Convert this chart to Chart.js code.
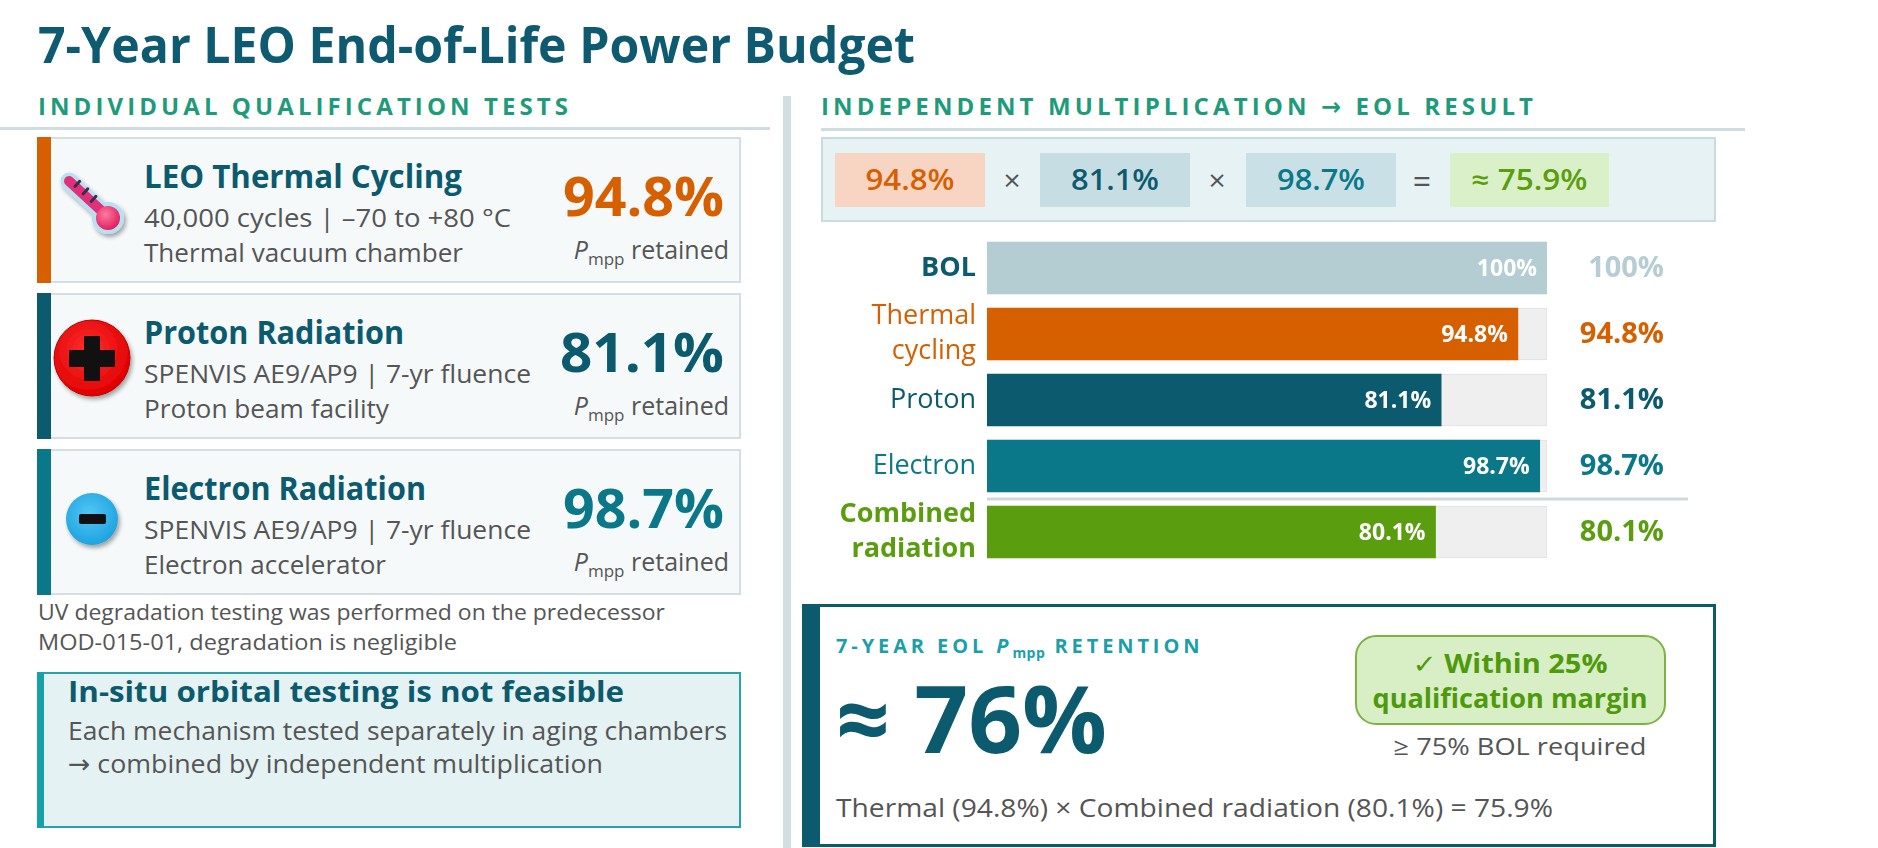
<!DOCTYPE html>
<html>
<head>
<meta charset="utf-8">
<script src="https://cdn.jsdelivr.net/npm/chart.js@4.4.1/dist/chart.umd.min.js"></script>
<style>
  html, body { margin: 0; padding: 0; background: #ffffff; }
  #wrap { position: relative; width: 1878px; height: 848px; overflow: hidden; background: #fff; }
  #layer { position: absolute; left: 0; top: 0; }
  #bars { position: absolute; left: 820px; top: 235px; }
</style>
</head>
<body>
<div id="wrap">
  <svg id="layer" width="1878" height="848" xmlns="http://www.w3.org/2000/svg"></svg>
  <canvas id="bars" width="880" height="330"></canvas>
</div>
<script>
// ---------------- DATA ----------------
const categories = ['BOL', ['Thermal', 'cycling'], 'Proton', 'Electron', ['Combined', 'radiation']];
const retention = [100, 94.8, 81.1, 98.7, 80.1];          // % of BOL Pmpp
const trackMax = [100, 100, 100, 100, 100];               // BOL reference track
const eolProduct = 75.9;                                   // % (multiplied)
const eolRounded = 76;                                     // %
const marginPct = 25;                                      // qualification margin %
const requiredBOL = 75;                                    // % BOL required
const testTitles = ['LEO Thermal Cycling', 'Proton Radiation', 'Electron Radiation'];
const testLine1 = ['40,000 cycles | –70 to +80 °C', 'SPENVIS AE9/AP9 | 7-yr fluence', 'SPENVIS AE9/AP9 | 7-yr fluence'];
const testLine2 = ['Thermal vacuum chamber', 'Proton beam facility', 'Electron accelerator'];

// ---------------- STYLE ----------------
const FONT = "'Open Sans', 'Noto Sans', 'DejaVu Sans', sans-serif";
const C_TITLE = '#0e5a70';
const C_SECTION = '#1e9b7b';
const C_ORANGE = '#d65f00';
const C_DTEAL = '#0c5a6d';
const C_TEAL = '#0a7889';
const C_GREEN = '#5a9e0f';
const C_GREY = '#555555';
const barColors = ['#b3cdd3', C_ORANGE, C_DTEAL, C_TEAL, C_GREEN];
const outerColors = ['#b5cdd3', C_ORANGE, C_DTEAL, C_TEAL, C_GREEN];
const tickColors = [C_DTEAL, C_ORANGE, C_DTEAL, C_TEAL, C_GREEN];
const boldTicks = [0, 4];

const fmt = v => (Number.isInteger(v) ? v.toFixed(0) : v.toFixed(1)) + '%';

// ---------------- SVG LAYOUT ----------------
const FF = FONT.replace(/"/g, '');
function txt(x, y, s, o = {}) {
  const a = [`x="${x}"`, `y="${y}"`, `font-family="${FF}"`,
             `font-size="${o.size || 20}"`, `fill="${o.color || C_GREY}"`];
  if (o.weight) a.push(`font-weight="${o.weight}"`);
  if (o.anchor) a.push(`text-anchor="${o.anchor}"`);
  if (o.w) a.push(`textLength="${o.w}" lengthAdjust="${o.adj || 'spacingAndGlyphs'}"`);
  if (o.ls) a.push(`letter-spacing="${o.ls}"`);
  if (o.style) a.push(`font-style="${o.style}"`);
  return `<text ${a.join(' ')}>${s}</text>`;
}
function pmpp(xRight, y, size, color) {
  return `<text x="${xRight}" y="${y}" text-anchor="end" font-family="${FF}" font-size="${size}" fill="${color}">` +
         `<tspan font-style="italic">P</tspan><tspan font-size="${Math.round(size * 0.68)}" dy="6">mpp</tspan><tspan dy="-6"> retained</tspan></text>`;
}

let s = '';
s += `<defs>
  <filter id="sh" x="-30%" y="-30%" width="160%" height="160%"><feDropShadow dx="2" dy="3" stdDeviation="2" flood-color="#000" flood-opacity="0.35"/></filter>
  <radialGradient id="gRed" cx="45%" cy="40%" r="60%"><stop offset="0%" stop-color="#ff3030"/><stop offset="100%" stop-color="#e00000"/></radialGradient>
  <radialGradient id="gBlue" cx="45%" cy="40%" r="60%"><stop offset="0%" stop-color="#52c6f6"/><stop offset="100%" stop-color="#1fa3e0"/></radialGradient>
  <radialGradient id="gPink" cx="40%" cy="35%" r="65%"><stop offset="0%" stop-color="#ff7aa0"/><stop offset="100%" stop-color="#e0205f"/></radialGradient>
</defs>`;

// Title
s += txt(38, 63, '7-Year LEO End-of-Life Power Budget', { size: 50, weight: 700, color: C_TITLE, w: 877 });

// Section labels + rules
s += txt(38, 115, 'INDIVIDUAL QUALIFICATION TESTS', { size: 24, weight: 700, color: C_SECTION, w: 530, adj: 'spacing' });
s += `<rect x="0" y="127" width="770" height="3" fill="#cfdde0"/>`;
s += txt(821, 115, 'INDEPENDENT MULTIPLICATION → EOL RESULT', { size: 24, weight: 700, color: C_SECTION, w: 712, adj: 'spacing' });
s += `<rect x="821" y="128" width="924" height="3" fill="#cfdde0"/>`;

// Vertical divider
s += `<rect x="783" y="96" width="8" height="752" fill="#d3dee1"/>`;

// Cards
const cardTops = [137, 293, 449];
const cardAccent = [C_ORANGE, C_DTEAL, C_TEAL];
const cardValColor = [C_ORANGE, C_DTEAL, C_TEAL];
const titleW = [318, 260, 282];
const l1W = [367, 387, 387];
const l2W = [319, 245, 242];
const valW = [161, 164, 161];
for (let i = 0; i < 3; i++) {
  const t = cardTops[i];
  s += `<rect x="38" y="${t + 1}" width="702" height="144" fill="#f5f9fa" stroke="#d5dfe3" stroke-width="2"/>`;
  s += `<rect x="37" y="${t}" width="14" height="146" fill="${cardAccent[i]}"/>`;
  s += txt(144, t + 51, testTitles[i], { size: 32, weight: 700, color: C_DTEAL, w: titleW[i] });
  s += txt(144, t + 90, testLine1[i], { size: 26, color: C_GREY, w: l1W[i] });
  s += txt(144, t + 125, testLine2[i], { size: 26, color: C_GREY, w: l2W[i] });
  s += txt(724, t + 79, fmt(retention[i + 1]), { size: 53, weight: 700, color: cardValColor[i], anchor: 'end', w: valW[i] });
  s += pmpp(729, t + 122, 25, C_GREY);
}

// Icons
// thermometer
(function () {
  const x1 = 69, y1 = 181, x2 = 106, y2 = 215;
  s += `<g filter="url(#sh)">`;
  s += `<line x1="${x1}" y1="${y1}" x2="${x2}" y2="${y2}" stroke="#b8dff2" stroke-width="17" stroke-linecap="round"/>`;
  s += `<circle cx="108" cy="218" r="16" fill="#b8dff2"/>`;
  s += `</g>`;
  s += `<line x1="${x1}" y1="${y1}" x2="${x2}" y2="${y2}" stroke="#e0307a" stroke-width="10" stroke-linecap="round"/>`;
  s += `<circle cx="108" cy="218" r="12" fill="url(#gPink)"/>`;
  const dx = x2 - x1, dy = y2 - y1, L = Math.hypot(dx, dy);
  const ux = dx / L, uy = dy / L, px = uy, py = -ux;
  [0.16, 0.38, 0.6].forEach(f => {
    const cx = x1 + dx * f, cy = y1 + dy * f;
    s += `<line x1="${cx}" y1="${cy}" x2="${cx + px * 7}" y2="${cy + py * 7}" stroke="#3a2c4e" stroke-width="3" stroke-linecap="round"/>`;
  });
})();
// proton
s += `<circle cx="92" cy="358" r="38" fill="url(#gRed)" stroke="#b80000" stroke-width="1" filter="url(#sh)"/>`;
s += `<rect x="69" y="350" width="46" height="17" fill="#111"/><rect x="84" y="336" width="16" height="45" fill="#111"/>`;
// electron
s += `<circle cx="92" cy="519" r="26" fill="url(#gBlue)" filter="url(#sh)"/>`;
s += `<rect x="79" y="514" width="27" height="10" rx="2" fill="#111"/>`;

// UV note
s += txt(38, 620, 'UV degradation testing was performed on the predecessor', { size: 22, color: C_GREY, w: 627 });
s += txt(38, 650, 'MOD-015-01, degradation is negligible', { size: 22, color: C_GREY, w: 419 });

// In-situ box
s += `<rect x="38" y="673" width="702" height="154" fill="#e5f2f4" stroke="#2aa2ab" stroke-width="2"/>`;
s += `<rect x="37" y="672" width="7" height="156" fill="#17a2aa"/>`;
s += txt(68, 702, 'In-situ orbital testing is not feasible', { size: 28, weight: 700, color: C_DTEAL, w: 556 });
s += txt(68, 740, 'Each mechanism tested separately in aging chambers', { size: 26, color: C_GREY, w: 659 });
s += txt(68, 773, '→ combined by independent multiplication', { size: 26, color: C_GREY, w: 535 });

// Formula box
s += `<rect x="822" y="138" width="893" height="83" fill="#e6f2f4" stroke="#c8dbdf" stroke-width="2"/>`;
const chipX = [835, 1040, 1246, 1450];
const chipW = [150, 150, 150, 159];
const chipFill = ['#f8d5c2', '#c6dee3', '#c9e1e6', '#daf0c9'];
const chipColor = [C_ORANGE, C_DTEAL, C_TEAL, C_GREEN];
const chipTxt = [fmt(retention[1]), fmt(retention[2]), fmt(retention[3]), '≈ ' + fmt(eolProduct)];
const chipTW = [89, 88, 88, 116];
for (let i = 0; i < 4; i++) {
  s += `<rect x="${chipX[i]}" y="153" width="${chipW[i]}" height="54" fill="${chipFill[i]}"/>`;
  s += txt(chipX[i] + chipW[i] / 2, 190, chipTxt[i], { size: 28, weight: 600, color: chipColor[i], anchor: 'middle', w: chipTW[i] });
}
s += txt(1012, 191, '×', { size: 30, color: C_GREY, anchor: 'middle' });
s += txt(1217, 191, '×', { size: 30, color: C_GREY, anchor: 'middle' });
s += txt(1422, 193, '=', { size: 32, color: C_GREY, anchor: 'middle' });

// Result box
s += `<rect x="803.5" y="605.5" width="911" height="240" fill="#ffffff" stroke="${C_DTEAL}" stroke-width="3"/>`;
s += `<rect x="802" y="604" width="18" height="243" fill="${C_DTEAL}"/>`;
s += `<text x="836" y="653" font-family="${FF}" font-size="20" font-weight="700" fill="#1a9fab" letter-spacing="3.9">7-YEAR EOL <tspan font-style="italic">P</tspan><tspan font-size="14" dy="5" letter-spacing="0.5">mpp</tspan><tspan dy="-5"> RETENTION</tspan></text>`;
s += txt(836, 753, '≈ ' + eolRounded + '%', { size: 93, weight: 700, color: C_DTEAL, w: 271 });
s += `<rect x="1356" y="636" width="309" height="88" rx="20" ry="20" fill="#d8efc6" stroke="#7db343" stroke-width="2"/>`;
s += txt(1510, 673, '✓ Within ' + marginPct + '%', { size: 26, weight: 700, color: '#4f9a0c', anchor: 'middle', w: 195 });
s += txt(1510, 708, 'qualification margin', { size: 26, weight: 700, color: '#4f9a0c', anchor: 'middle', w: 275 });
s += txt(1520, 755, '≥ ' + requiredBOL + '% BOL required', { size: 24, color: C_GREY, anchor: 'middle', w: 253 });
s += txt(836, 817, 'Thermal (' + fmt(retention[1]) + ') × Combined radiation (' + fmt(retention[4]) + ') = ' + fmt(eolProduct),
         { size: 25, color: C_GREY, w: 717 });

document.getElementById('layer').innerHTML = s;

// ---------------- CHART ----------------
const valueLabels = {
  id: 'valueLabels',
  afterDatasetsDraw(chart) {
    const c = chart.ctx;
    const meta = chart.getDatasetMeta(0);
    const area = chart.chartArea;
    c.save();
    // separator between single mechanisms and combined radiation
    const ySep = (meta.data[3].y + meta.data[4].y) / 2;
    c.strokeStyle = '#cfd9dc';
    c.lineWidth = 3;
    c.beginPath();
    c.moveTo(area.left, ySep);
    c.lineTo(area.right + 141, ySep);
    c.stroke();
    c.textAlign = 'right';
    c.textBaseline = 'middle';
    meta.data.forEach((bar, i) => {
      const label = fmt(retention[i]);
      c.font = `700 23px ${FONT}`;
      c.fillStyle = '#ffffff';
      c.fillText(label, bar.x - 10, bar.y + 1);
      c.font = `700 29px ${FONT}`;
      c.fillStyle = outerColors[i];
      c.fillText(label, area.right + 117, bar.y + 1);
    });
    c.restore();
  }
};

new Chart(document.getElementById('bars'), {
  type: 'bar',
  data: {
    labels: categories,
    datasets: [
      { data: retention, backgroundColor: barColors, borderWidth: 0, order: 1, grouped: false, barThickness: 52 },
      { data: trackMax, backgroundColor: '#efefef', borderColor: '#e0e0e0', borderWidth: 1, order: 2, grouped: false, barThickness: 52 }
    ]
  },
  options: {
    indexAxis: 'y',
    responsive: false,
    animation: false,
    events: [],
    layout: { padding: { left: 0, right: 153, top: 0, bottom: 0 } },
    plugins: { legend: { display: false }, tooltip: { enabled: false } },
    scales: {
      x: { display: false, min: 0, max: 100 },
      y: {
        grid: { display: false, drawTicks: false },
        border: { display: false },
        afterFit(scale) { scale.width = 167; scale.paddingTop = 0; scale.paddingBottom = 0; },
        ticks: {
          autoSkip: false,
          padding: 11,
          color: ctx => tickColors[ctx.index],
          font: ctx => ({ family: FONT, size: 27, weight: boldTicks.includes(ctx.index) ? '700' : '400', lineHeight: 1.28 })
        }
      }
    }
  },
  plugins: [valueLabels]
});
</script>
</body>
</html>
